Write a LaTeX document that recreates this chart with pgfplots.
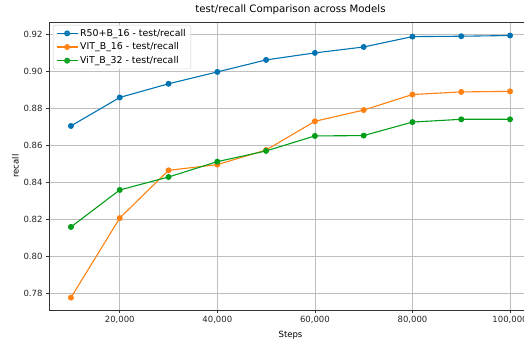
\documentclass[border=0pt]{standalone}
\usepackage{pgfplots}
\pgfplotsset{compat=1.18}
\usepackage{fontspec}
\setmainfont{DejaVu Sans}
\definecolor{cblue}{HTML}{0173B2}
\definecolor{corange}{HTML}{FF8112}
\definecolor{cgreen}{HTML}{029E1A}
\definecolor{spine}{HTML}{333333}
\begin{document}
\begin{tikzpicture}
\clip (-49pt,-31pt) rectangle (475pt,310pt);
\begin{axis}[
  at={(0pt,0pt)}, anchor=south west,
  scale only axis, width=483pt, height=288pt,
  xmin=5500, xmax=104500, ymin=0.7708, ymax=0.9265,
  xtick={20000,40000,60000,80000,100000},
  xticklabels={20{,}000,40{,}000,60{,}000,80{,}000,100{,}000},
  ytick={0.78,0.80,0.82,0.84,0.86,0.88,0.90,0.92},
  yticklabel style={/pgf/number format/.cd,fixed,fixed zerofill,precision=2},
  /pgf/number format/assume math mode=true,
  scaled y ticks=false, scaled x ticks=false,
  tick label style={font=\fontsize{8.5}{10}\selectfont, color=black!85},
  label style={font=\fontsize{8.5}{10}\selectfont},
  xlabel={Steps}, ylabel={recall},
  xlabel style={at={(ticklabel cs:0.5)}, yshift=0pt},
  ylabel style={yshift=-2pt},
  title={test/recall Comparison across Models},
  title style={font=\fontsize{10.2}{12}\selectfont, yshift=-2pt},
  grid=major, major grid style={color=black!25, line width=0.6pt},
  axis line style={spine, line width=0.7pt},
  tick style={spine, line width=0.6pt},
  tick align=outside, major tick length=3pt,
  xtick pos=bottom, ytick pos=left,
  legend style={font=\fontsize{9.4}{11}\selectfont, draw=black!20, rounded corners=2pt, fill=white, fill opacity=0.8, text opacity=1, row sep=1pt, inner xsep=3pt, inner ysep=2pt, at={(0.008,0.99)}, anchor=north west},
  legend cell align=left,
  legend image code/.code={\draw[mark repeat=2,mark phase=2] plot coordinates {(0pt,0pt)(10.5pt,0pt)(21pt,0pt)};},
  every axis plot/.append style={line width=1.1pt, mark=*, mark size=2.4pt},
]
\addplot[color=cblue] coordinates {
(10000,0.8703) (20000,0.8857) (30000,0.8931) (40000,0.8995) (50000,0.9060)
(60000,0.9098) (70000,0.9130) (80000,0.9186) (90000,0.9188) (100000,0.9192)};
\addlegendentry{R50+B\_16 - test/recall}
\addplot[color=corange] coordinates {
(10000,0.7775) (20000,0.8205) (30000,0.8463) (40000,0.8494) (50000,0.8573)
(60000,0.8728) (70000,0.8789) (80000,0.8873) (90000,0.8887) (100000,0.8890)};
\addlegendentry{VIT\_B\_16 - test/recall}
\addplot[color=cgreen] coordinates {
(10000,0.8157) (20000,0.8357) (30000,0.8427) (40000,0.8510) (50000,0.8568)
(60000,0.8649) (70000,0.8651) (80000,0.8724) (90000,0.8739) (100000,0.8739)};
\addlegendentry{ViT\_B\_32 - test/recall}
\end{axis}
\end{tikzpicture}
\end{document}
